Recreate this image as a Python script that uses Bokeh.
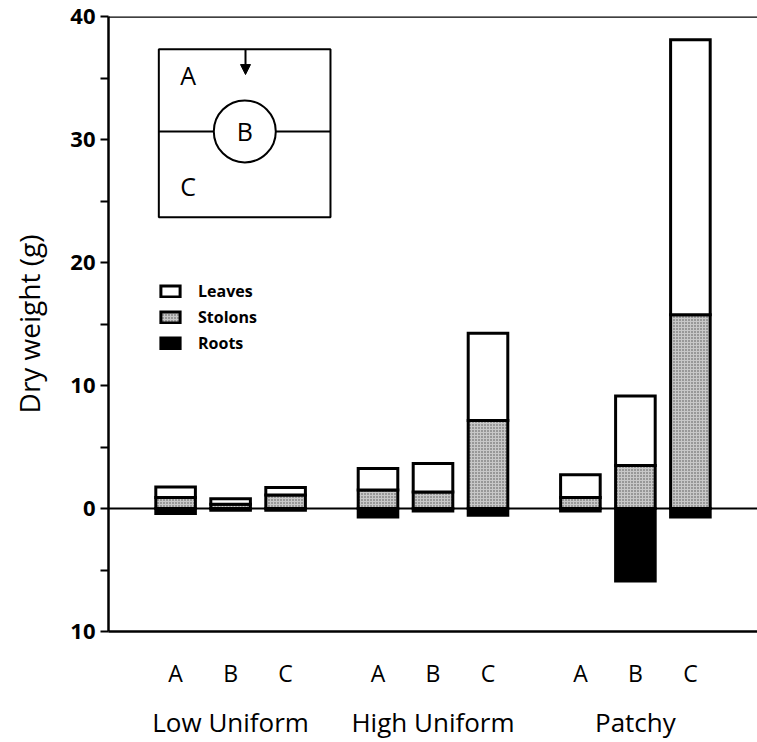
from bokeh.plotting import figure
from bokeh.models import (FactorRange, Range1d, CategoricalAxis, FixedTicker, Span,
                          Legend, LegendItem, Arrow, NormalHead, ColumnDataSource)
from bokeh.core.properties import value
from bokeh.embed import file_html
from bokeh.resources import INLINE

# ---- data (dry weight, g) ----
groups = ["Low Uniform", "High Uniform", "Patchy"]
positions = ["A", "B", "C"]
leaves = [0.85, 0.45, 0.6, 1.75, 2.3, 7.1, 1.85, 5.65, 22.35]
stolons = [0.9, 0.35, 1.1, 1.5, 1.35, 7.15, 0.9, 3.5, 15.75]
roots = [0.4, 0.15, 0.15, 0.7, 0.2, 0.55, 0.2, 5.9, 0.7]
legend_labels = ["Leaves", "Stolons", "Roots"]
y_ticks = [-10, 0, 10, 20, 30, 40]
y_minor_ticks = [-5, 5, 15, 25, 35]
y_tick_labels = {-10: "10"}
inset_labels = ["A", "B", "C"]

FONT = "Open Sans"

factors = [(g, s) for g in groups for s in positions]
leaf_top = [s + l for s, l in zip(stolons, leaves)]
root_bottom = [-r for r in roots]

src = ColumnDataSource(dict(x=factors, zero=[0] * len(factors), stol_top=stolons,
                            leaf_top=leaf_top, root_bottom=root_bottom))

x_range = FactorRange(*factors, group_padding=0.68, factor_padding=0.0,
                      range_padding=0.72, range_padding_units="absolute")

p = figure(x_range=x_range, y_range=Range1d(-10, 40), width=757, height=742,
           output_backend="svg", toolbar_location=None, x_axis_location=None,
           min_border_left=108, min_border_right=0, min_border_top=16, min_border_bottom=101)
p.outline_line_color = None
p.grid.visible = False
p.background_fill_color = "white"
p.border_fill_color = "white"

# y axis
yax = p.yaxis[0]
yax.ticker = FixedTicker(ticks=y_ticks, minor_ticks=y_minor_ticks)
yax.major_label_overrides = y_tick_labels
yax.axis_line_width = 2.5
yax.axis_line_color = "black"
yax.major_tick_line_width = 2
yax.minor_tick_line_width = 2
yax.major_tick_line_color = "black"
yax.minor_tick_line_color = "black"
yax.major_tick_out = 8
yax.major_tick_in = 0
yax.minor_tick_out = 8
yax.minor_tick_in = 0
yax.major_label_standoff = 5
yax.major_label_text_font = FONT
yax.major_label_text_font_size = "22px"
yax.major_label_text_font_style = "bold"
yax.major_label_text_color = "black"
yax.axis_label = "Dry weight (g)"
yax.axis_label_text_font = FONT
yax.axis_label_text_font_size = "28px"
yax.axis_label_text_font_style = "normal"
yax.axis_label_text_color = "black"
yax.axis_label_standoff = 19

# x axes: position letters, then group names
ax1 = CategoricalAxis(axis_line_color="black", axis_line_width=2.5,
                      major_tick_line_color=None, minor_tick_line_color=None,
                      major_label_standoff=19, major_label_text_font=FONT,
                      major_label_text_font_size="23px", major_label_text_color="black",
                      group_text_font_size="0px", group_text_color=None,
                      separator_line_color=None)
ax2 = CategoricalAxis(axis_line_color=None,
                      major_tick_line_color=None, minor_tick_line_color=None,
                      major_label_standoff=6, major_label_text_font_size="0px",
                      major_label_text_color=None,
                      group_text_font=FONT, group_text_font_size="26px",
                      group_text_font_style="normal",
                      group_text_color="black", separator_line_color=None)
p.add_layout(ax1, "below")
p.add_layout(ax2, "below")

# frame lines
p.add_layout(Span(location=40, dimension="width", line_color="black", line_width=2.5))
p.add_layout(Span(location=0, dimension="width", line_color="black", line_width=2,
                  level="underlay"))

# bars
W = 0.72
r_stol = p.vbar(x="x", bottom="zero", top="stol_top", width=W, source=src,
                fill_color="#c8c8c8", hatch_pattern="dot", hatch_scale=3, hatch_weight=1.4,
                hatch_color="#505050", line_color="black", line_width=3, line_join="miter")
r_leaf = p.vbar(x="x", bottom="stol_top", top="leaf_top", width=W, source=src,
                fill_color="white", line_color="black", line_width=3, line_join="miter")
r_root = p.vbar(x="x", bottom="root_bottom", top="zero", width=W, source=src,
                fill_color="black", line_color="black", line_width=3, line_join="miter")

legend = Legend(items=[LegendItem(label=legend_labels[0], renderers=[r_leaf]),
                       LegendItem(label=legend_labels[1], renderers=[r_stol]),
                       LegendItem(label=legend_labels[2], renderers=[r_root])],
                location=(50, 277), orientation="vertical", glyph_width=24, glyph_height=14,
                label_standoff=16, spacing=4, padding=0, margin=0,
                border_line_color=None, background_fill_alpha=0,
                label_text_font=FONT, label_text_font_size="16px",
                label_text_font_style="bold", label_text_color="black", label_height=14)
p.add_layout(legend)

# inset diagram (layout constants, synthetic x units / y data units)
bx0, bx1 = 0.195, 3.316
by0, by1, bym = 23.68, 37.34, 30.66
cx = 1.758
p.quad(left=[bx0], right=[bx1], bottom=[by0], top=[by1], fill_color=None,
       line_color="black", line_width=2)
p.segment(x0=[bx0], y0=[bym], x1=[bx1], y1=[bym], line_color="black", line_width=2)
p.scatter(x=[cx], y=[bym], size=62, marker="circle", fill_color="white",
          line_color="black", line_width=2)
p.text(x=[0.729, cx, 0.729], y=[35.28, 30.72, 26.24], text=inset_labels,
       text_font=value(FONT), text_font_size="25px", text_align="center",
       text_baseline="middle", text_color="black")
p.add_layout(Arrow(end=NormalHead(size=10, fill_color="black", line_color="black"),
                   x_start=cx + 0.013, y_start=by1, x_end=cx + 0.013, y_end=35.28,
                   line_color="black", line_width=2))

open("out.html", "w").write(file_html(p, INLINE))
